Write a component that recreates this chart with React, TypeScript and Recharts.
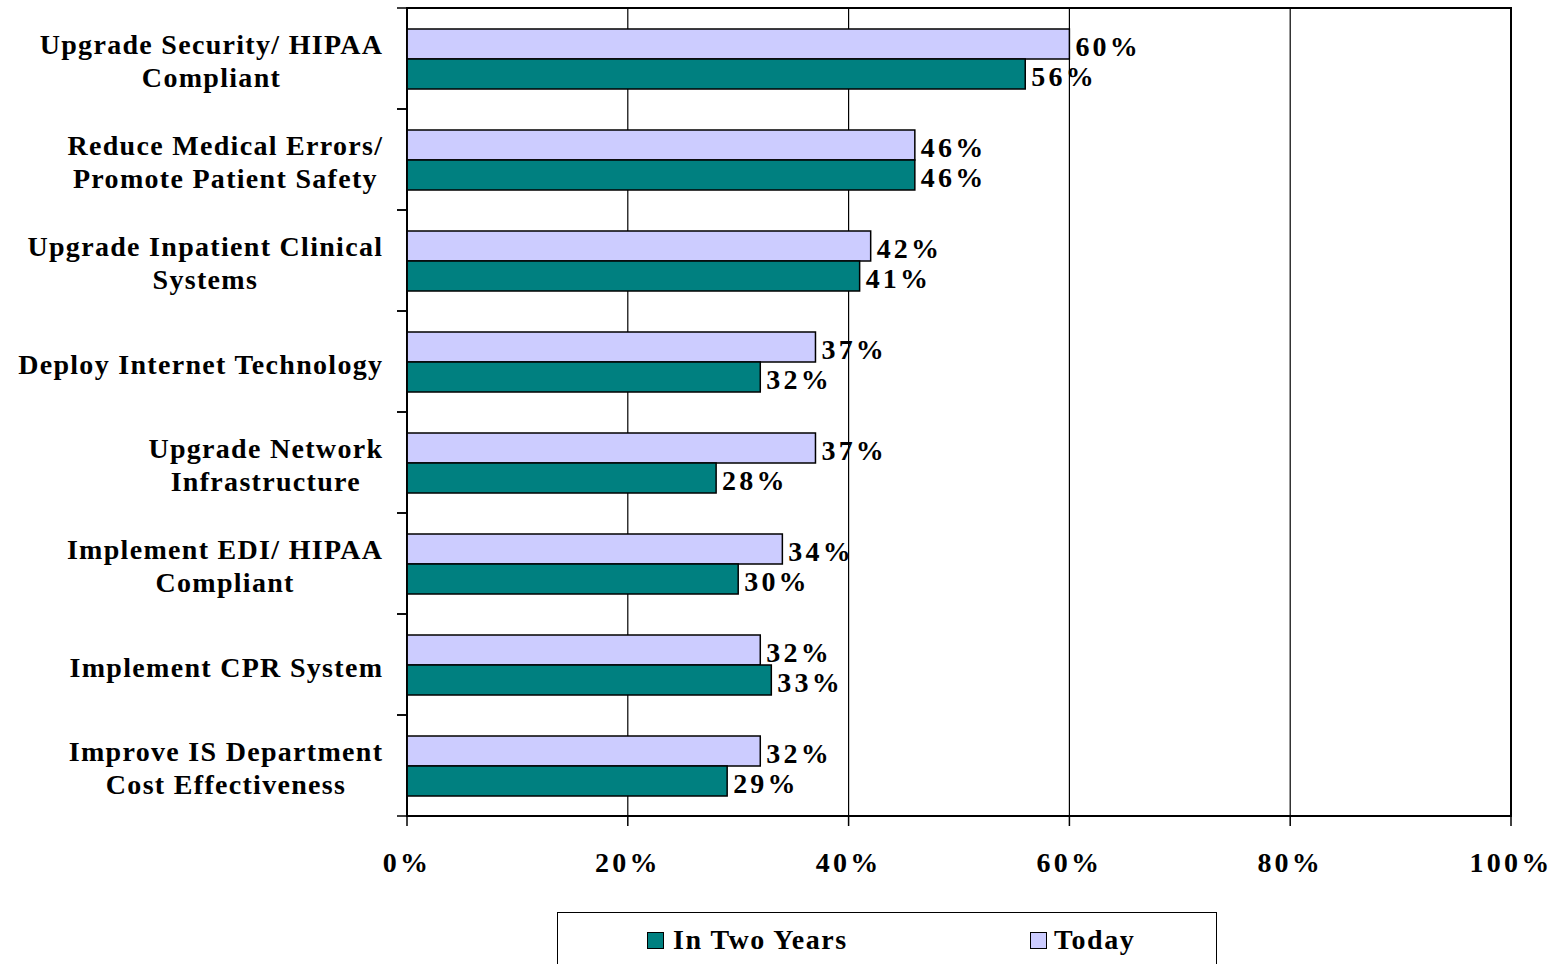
import React, { useLayoutEffect, useRef, useState } from 'react';
import { BarChart, Bar, XAxis, YAxis, CartesianGrid, ReferenceArea, LabelList } from 'recharts';

const categories = [
  'Upgrade Security/ HIPAA\nCompliant',
  'Reduce Medical Errors/\nPromote Patient Safety',
  'Upgrade Inpatient Clinical\nSystems',
  'Deploy Internet Technology',
  'Upgrade Network\nInfrastructure',
  'Implement EDI/ HIPAA\nCompliant',
  'Implement CPR System',
  'Improve IS Department\nCost Effectiveness',
];
const today = [60, 46, 42, 37, 37, 34, 32, 32];
const inTwoYears = [56, 46, 41, 32, 28, 30, 33, 29];
const xTicks = [0, 20, 40, 60, 80, 100];

const data = categories.map((name, i) => ({ name, today: today[i], twoYears: inTwoYears[i] }));

const FONT = '"Liberation Serif", "Times New Roman", serif';
const FS = 28;
const LS = 1.3;
const NUM_LS = 3.2;
const TEAL = '#008080';
const LAVENDER = '#CCCCFF';

const CategoryTick = (props: any) => {
  const { x, y, payload } = props;
  const lines: string[] = String(payload.value).split('\n');
  const band = 101;
  const refs = useRef<(SVGTSpanElement | null)[]>([]);
  const [lens, setLens] = useState<number[]>(lines.map((l) => l.length * FS * 0.5));

  useLayoutEffect(() => {
    const m = refs.current.map((el, i) => (el ? el.getComputedTextLength() : lens[i]));
    if (m.some((v, i) => Math.abs(v - lens[i]) > 0.5)) setLens(m);
  });

  const right = x - 25 + LS;
  const maxLen = Math.max(...lens);
  const center = right - maxLen / 2;
  const lh = 33;
  const start = y + 6 - ((lines.length - 1) * lh) / 2;
  return (
    <g>
      <line x1={x - 10} x2={x} y1={y - band / 2} y2={y - band / 2} stroke="#000" strokeWidth={1.5} />
      <line x1={x - 10} x2={x} y1={y + band / 2} y2={y + band / 2} stroke="#000" strokeWidth={1.5} />
      <text textAnchor="start" fontFamily={FONT} fontSize={FS} fontWeight="bold" letterSpacing={LS} fill="#000">
        {lines.map((l, i) => (
          <tspan
            key={i}
            ref={(el) => {
              refs.current[i] = el;
            }}
            x={center - lens[i] / 2}
            y={start + i * lh}
            dominantBaseline="middle"
          >
            {l}
          </tspan>
        ))}
      </text>
    </g>
  );
};

const labelStyle = { fontFamily: FONT, fontSize: FS, fontWeight: 'bold' as const, fill: '#000', letterSpacing: NUM_LS };

export default function App() {
  return (
    <div style={{ position: 'absolute', left: 0, top: 0, width: 1559, height: 964, overflow: 'hidden', background: '#fff' }}>
      <BarChart
        width={1559}
        height={964}
        data={data}
        layout="vertical"
        margin={{ top: 8, right: 48, bottom: 88, left: 0 }}
        barGap={0}
        barSize={30}
      >
        <CartesianGrid horizontal={false} vertical stroke="#000" strokeWidth={1.2} />
        <XAxis
          type="number"
          domain={[0, 100]}
          ticks={xTicks}
          tickFormatter={(v) => `${v}%`}
          height={60}
          tickSize={10}
          tickMargin={26}
          axisLine={{ stroke: '#000', strokeWidth: 1.5 }}
          tickLine={{ stroke: '#000', strokeWidth: 1.5 }}
          tick={{ fill: '#000', fontFamily: FONT, fontSize: FS, fontWeight: 'bold', letterSpacing: NUM_LS }}
        />
        <YAxis
          type="category"
          dataKey="name"
          width={407}
          tickLine={false}
          tickSize={0}
          tickMargin={0}
          axisLine={{ stroke: '#000', strokeWidth: 1.5 }}
          tick={<CategoryTick />}
          interval={0}
        />
        <ReferenceArea x1={0} x2={100} fill="none" stroke="#000" strokeWidth={2} ifOverflow="visible" />
        <Bar dataKey="today" fill={LAVENDER} stroke="#000" strokeWidth={1.5} isAnimationActive={false}>
          <LabelList dataKey="today" position="right" offset={6} dy={2} formatter={(v: any) => `${v}%`} style={labelStyle} />
        </Bar>
        <Bar dataKey="twoYears" fill={TEAL} stroke="#000" strokeWidth={1.5} isAnimationActive={false}>
          <LabelList dataKey="twoYears" position="right" offset={6} dy={2} formatter={(v: any) => `${v}%`} style={labelStyle} />
        </Bar>
      </BarChart>
      <div
        style={{
          position: 'absolute',
          left: 557,
          top: 912,
          width: 658,
          height: 80,
          border: '1.5px solid #000',
          fontFamily: FONT,
          fontSize: FS,
          fontWeight: 'bold',
          letterSpacing: 1.5,
        }}
      >
        <div style={{ position: 'absolute', left: 89, top: 11, display: 'flex', alignItems: 'center' }}>
          <span style={{ display: 'inline-block', width: 15, height: 15, background: TEAL, border: '1px solid #000', marginRight: 9 }} />
          <span>In Two Years</span>
        </div>
        <div style={{ position: 'absolute', left: 472, top: 11, display: 'flex', alignItems: 'center' }}>
          <span style={{ display: 'inline-block', width: 15, height: 15, background: LAVENDER, border: '1px solid #000', marginRight: 7 }} />
          <span>Today</span>
        </div>
      </div>
    </div>
  );
}
